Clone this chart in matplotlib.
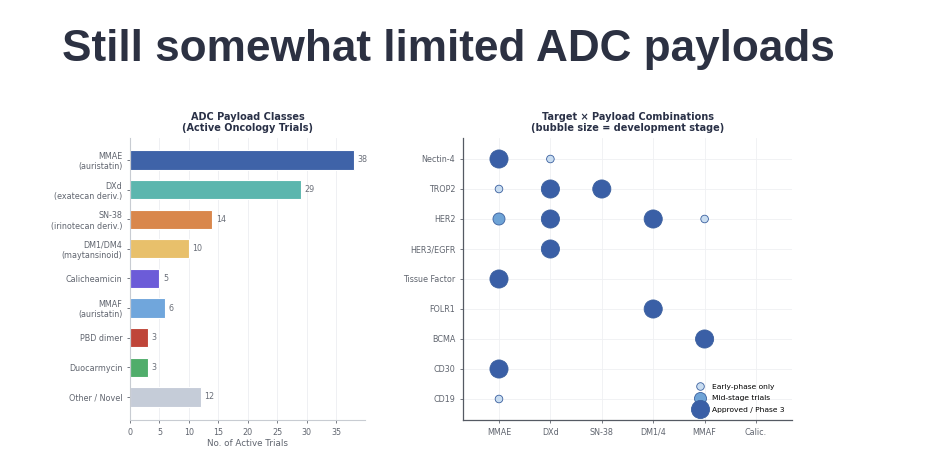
import matplotlib
matplotlib.use("Agg")
import matplotlib.pyplot as plt
from matplotlib.lines import Line2D

# ---------------- data ----------------
payload_labels = ["MMAE\n(auristatin)", "DXd\n(exatecan deriv.)", "SN-38\n(irinotecan deriv.)",
                  "DM1/DM4\n(maytansinoid)", "Calicheamicin", "MMAF\n(auristatin)",
                  "PBD dimer", "Duocarmycin", "Other / Novel"]
payload_trials = [38, 29, 14, 10, 5, 6, 3, 3, 12]
payload_colors = ["#3f63a8", "#5cb6ae", "#d9874c", "#e8c06b", "#6c5cd8", "#70a6dc",
                  "#bf4539", "#50ad6b", "#c5ccd8"]

targets = ["Nectin-4", "TROP2", "HER2", "HER3/EGFR", "Tissue Factor", "FOLR1", "BCMA", "CD30", "CD19"]
payloads = ["MMAE", "DXd", "SN-38", "DM1/4", "MMAF", "Calic."]
# stage: 1 early, 2 mid, 3 approved/phase 3
combo_target = ["Nectin-4", "Nectin-4", "TROP2", "TROP2", "TROP2", "HER2", "HER2", "HER2", "HER2",
                "HER3/EGFR", "Tissue Factor", "FOLR1", "BCMA", "CD30", "CD19"]
combo_payload = ["MMAE", "DXd", "MMAE", "DXd", "SN-38", "MMAE", "DXd", "DM1/4", "MMAF",
                 "DXd", "MMAE", "DM1/4", "MMAF", "MMAE", "MMAE"]
combo_stage = [3, 1, 1, 3, 3, 2, 3, 3, 1, 3, 3, 3, 3, 3, 1]
stage_labels = ["Early-phase only", "Mid-stage trials", "Approved / Phase 3"]
stage_sizes = {1: 30, 2: 75, 3: 170}
stage_colors = {1: "#c9ddf1", 2: "#6ea3d6", 3: "#3a5fa6"}

# ---------------- figure ----------------
fig = plt.figure(figsize=(9.34, 4.70), dpi=100)
W, H = 934, 470

fig.text(62 / W, 1 - 50 / H, "Still somewhat limited ADC payloads", fontsize=31.8,
         fontweight="bold", family="Liberation Sans", color="#2c3142", va="center", ha="left")

title_color = "#2a3147"
tick_color = "#60656f"

# left bar chart
ax1 = fig.add_axes([130 / W, 1 - 420 / H, (365 - 130) / W, (420 - 138) / H])
ypos = list(range(len(payload_labels)))
ax1.barh(ypos, payload_trials, height=0.65, color=payload_colors, edgecolor="white", linewidth=0.8)
for y, v in zip(ypos, payload_trials):
    ax1.text(v + 0.6, y, str(v), va="center", ha="left", fontsize=5.8, color="#6a6f79")
ax1.set_yticks(ypos)
ax1.set_yticklabels(payload_labels)
ax1.set_ylim(8.78, -0.74)
ax1.set_xlim(0, 39.9)
ax1.set_xticks(range(0, 40, 5))
ax1.set_xlabel("No. of Active Trials", fontsize=6.3, color=tick_color, labelpad=2)
ax1.set_title("ADC Payload Classes\n(Active Oncology Trials)", fontsize=7, fontweight="bold",
              color=title_color, pad=5, linespacing=1.15)
ax1.grid(axis="x", color="#eceef1", linewidth=0.6)
ax1.set_axisbelow(True)
for s in ["top", "right"]:
    ax1.spines[s].set_visible(False)
for s in ["left", "bottom"]:
    ax1.spines[s].set_color("#c8ccd2")
    ax1.spines[s].set_linewidth(0.8)
ax1.tick_params(labelsize=5.8, colors=tick_color, length=2, width=0.6)

# right bubble chart
ax2 = fig.add_axes([463 / W, 1 - 420 / H, (792 - 463) / W, (420 - 138) / H])
xs = [payloads.index(p) for p in combo_payload]
ys = [targets.index(t) for t in combo_target]
ax2.scatter(xs, ys, s=[stage_sizes[s] for s in combo_stage],
            c=[stage_colors[s] for s in combo_stage], edgecolors="#3a5f9e", linewidths=0.6, zorder=3)
ax2.set_xticks(range(len(payloads)))
ax2.set_xticklabels(payloads)
ax2.set_yticks(range(len(targets)))
ax2.set_yticklabels(targets)
ax2.set_xlim(-0.7, 5.7)
ax2.set_ylim(8.7, -0.7)
ax2.set_title("Target \u00d7 Payload Combinations\n(bubble size = development stage)", fontsize=7,
              fontweight="bold", color=title_color, pad=5, linespacing=1.15)
ax2.grid(True, color="#eff0f3", linewidth=0.6)
ax2.set_axisbelow(True)
for s in ["top", "right"]:
    ax2.spines[s].set_visible(False)
for s in ["left", "bottom"]:
    ax2.spines[s].set_color("#555a63")
    ax2.spines[s].set_linewidth(0.9)
ax2.tick_params(labelsize=5.8, colors=tick_color, length=2, width=0.6)

handles = [Line2D([], [], marker="o", linestyle="", markersize=stage_sizes[k] ** 0.5,
                  markerfacecolor=stage_colors[k], markeredgecolor="#3a5f9e", markeredgewidth=0.6)
           for k in (1, 2, 3)]
ax2.legend(handles, stage_labels, loc="lower right", frameon=False, fontsize=5.4,
           handletextpad=0.6, labelspacing=0.7, borderaxespad=0.1, bbox_to_anchor=(0.99, 0.012))

fig.savefig("out.png", dpi=100, facecolor="white")
